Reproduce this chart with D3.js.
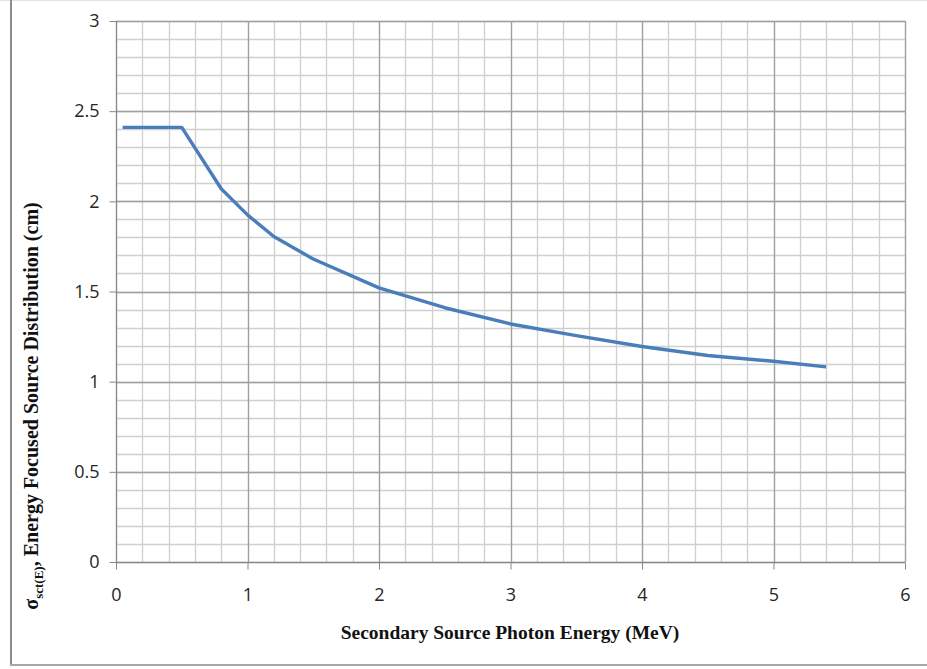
<!DOCTYPE html>
<html>
<head>
<meta charset="utf-8">
<script src="https://cdn.jsdelivr.net/npm/d3@7"></script>
<style>
  body { margin: 0; background: #fff; }
  svg { display: block; }
</style>
</head>
<body>
<svg id="chart" width="927" height="669"></svg>
<script>
// Data
const energy = [0.05, 0.5, 0.8, 1.0, 1.2, 1.5, 2.0, 2.5, 3.0, 3.5, 4.0, 4.5, 5.0, 5.4];
const sigma  = [2.41, 2.41, 2.07, 1.925, 1.805, 1.68, 1.52, 1.41, 1.32, 1.255, 1.195, 1.145, 1.113, 1.082];
const xTicks = [0, 1, 2, 3, 4, 5, 6];
const yTicks = [0, 0.5, 1, 1.5, 2, 2.5, 3];
const xMinor = d3.range(0, 6.0001, 0.2);
const yMinor = d3.range(0, 3.0001, 0.1);

const svg = d3.select("#chart");
const W = 927, H = 669;
const m = { left: 116, right: 905, top: 21, bottom: 562 };

// chart frame
svg.append("line").attr("x1", 0).attr("x2", W).attr("y1", 0.5).attr("y2", 0.5)
  .attr("stroke", "#e4e4e4").attr("stroke-width", 1);
svg.append("line").attr("x1", 11).attr("x2", 11).attr("y1", 0).attr("y2", 665)
  .attr("stroke", "#8c8c8c").attr("stroke-width", 2);
svg.append("line").attr("x1", 10).attr("x2", W).attr("y1", 665).attr("y2", 665)
  .attr("stroke", "#a8a8a8").attr("stroke-width", 2);

const x = d3.scaleLinear().domain([0, 6]).range([m.left, m.right]);
const y = d3.scaleLinear().domain([0, 3]).range([m.bottom, m.top]);

const grid = svg.append("g");
// minor grid
grid.selectAll(".vx").data(xMinor).enter().append("line")
  .attr("x1", d => Math.round(x(d)) + 0.5).attr("x2", d => Math.round(x(d)) + 0.5)
  .attr("y1", m.top).attr("y2", m.bottom)
  .attr("stroke", "#cfcfcf").attr("stroke-width", 1.3);
grid.selectAll(".hy").data(yMinor).enter().append("line")
  .attr("y1", d => Math.round(y(d)) + 0.5).attr("y2", d => Math.round(y(d)) + 0.5)
  .attr("x1", m.left).attr("x2", m.right)
  .attr("stroke", "#cfcfcf").attr("stroke-width", 1.3);
// major grid
grid.selectAll(".vX").data(xTicks).enter().append("line")
  .attr("x1", d => Math.round(x(d)) + 0.5).attr("x2", d => Math.round(x(d)) + 0.5)
  .attr("y1", m.top).attr("y2", m.bottom)
  .attr("stroke", "#a0a0a0").attr("stroke-width", 1.3);
grid.selectAll(".hY").data(yTicks).enter().append("line")
  .attr("y1", d => Math.round(y(d)) + 0.5).attr("y2", d => Math.round(y(d)) + 0.5)
  .attr("x1", m.left).attr("x2", m.right)
  .attr("stroke", "#a0a0a0").attr("stroke-width", 1.3);

// axes
const xAxis = svg.append("g").attr("transform", `translate(0,${Math.round(y(0)) + 0.5})`)
  .call(d3.axisBottom(x).tickValues(xTicks).tickSize(7).tickPadding(19).tickFormat(d3.format("")));
const yAxis = svg.append("g").attr("transform", `translate(${Math.round(x(0)) + 0.5},0)`)
  .call(d3.axisLeft(y).tickValues(yTicks).tickSize(7).tickPadding(10).tickFormat(d3.format("")));
[xAxis, yAxis].forEach(a => {
  a.attr("font-size", 18).attr("font-family", "'Open Sans', 'Noto Sans', sans-serif");
  a.select(".domain").attr("stroke", "#868686");
  a.selectAll(".tick line").attr("stroke", "#868686");
  a.selectAll(".tick text").attr("fill", "#262626")
    .style("font-family", "'Open Sans', 'Noto Sans', sans-serif").style("font-size", "18px");
});
xAxis.select(".domain").attr("d", `M${m.left},0H${m.right}`);
yAxis.select(".domain").attr("d", `M0,${m.top}V${m.bottom}`);

// line
const line = d3.line().x((d, i) => x(energy[i])).y(d => y(d));
svg.append("path").datum(sigma)
  .attr("d", line).attr("fill", "none")
  .attr("stroke", "#4a7ebb").attr("stroke-width", 3.4)
  .attr("stroke-linejoin", "round");

// axis titles
svg.append("text").attr("x", 510).attr("y", 639).attr("text-anchor", "middle")
  .style("font-family", "'Liberation Serif', 'Times New Roman', serif")
  .style("font-weight", "bold").style("font-size", "19.5px").attr("fill", "#111")
  .text("Secondary Source Photon Energy (MeV)");

const yt = svg.append("text")
  .attr("transform", "translate(38,406) rotate(-90)")
  .attr("text-anchor", "middle")
  .style("font-family", "'Liberation Serif', 'Times New Roman', serif")
  .style("font-weight", "bold").style("font-size", "20px").attr("fill", "#111");
yt.append("tspan").text("σ");
yt.append("tspan").attr("dy", 5).style("font-size", "13px").text("sct(E)");
yt.append("tspan").attr("dy", -5).text(", Energy Focused Source Distribution  (cm)");
</script>
</body>
</html>
